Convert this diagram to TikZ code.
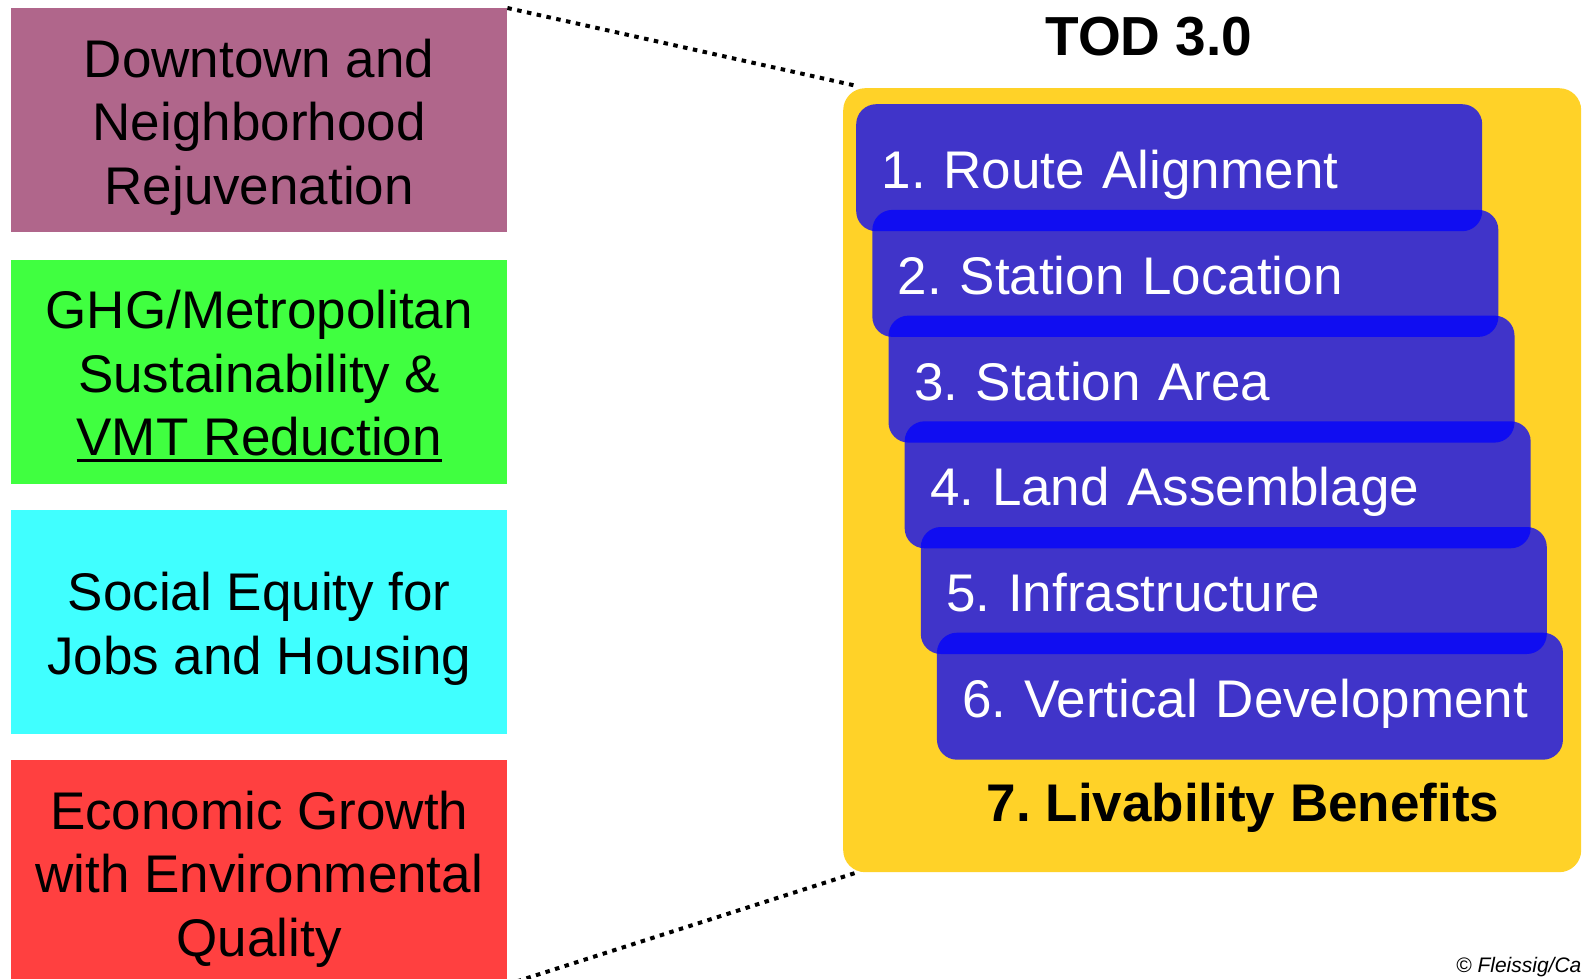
\documentclass[tikz,border=0pt]{standalone}
\usepackage{fontspec}
\setmainfont{Liberation Sans}

\definecolor{goalmauve}{RGB}{176,102,139}
\definecolor{goalgreen}{RGB}{64,255,64}
\definecolor{goalcyan}{RGB}{64,255,255}
\definecolor{goalred}{RGB}{255,64,64}
\definecolor{todyellow}{RGB}{255,210,40}
\definecolor{stepblue}{RGB}{0,0,255}

% line strut: keeps every text line 63.5pt tall (52.5 above, 11 below the baseline)
\newcommand{\lstrut}{\rule[-11pt]{0pt}{63.5pt}}
% underline drawn as a 3pt rule just below the baseline
\newcommand{\thickuline}[1]{\setbox0\hbox{#1}\rlap{\rule[-6.5pt]{\wd0}{3pt}}\box0}

\begin{document}
\frenchspacing
\begin{tikzpicture}[x=1pt,y=-1pt,
  goalbox/.style={draw=none, inner sep=0pt, minimum width=496pt, minimum height=224pt,
    align=center, anchor=north west, font=\fontsize{53pt}{63.5pt}\selectfont},
  panel/.style={fill=todyellow, rounded corners=22pt, inner sep=0pt,
    minimum width=738pt, minimum height=784pt, anchor=north west},
  stepbox/.style={fill=stepblue, fill opacity=0.75, text opacity=1, text=white,
    rounded corners=20pt, inner xsep=25.5pt, inner ysep=0pt, text width=575pt,
    align=left, minimum height=127pt, text height=42pt, text depth=0pt,
    anchor=north west, font=\fontsize{53pt}{63.5pt}\selectfont},
  zoomline/.style={line width=4pt, dash pattern=on 4.5pt off 5.5pt}
]
\useasboundingbox (0,0) rectangle (1583,979);

% goals on the left
\node[goalbox, fill=goalmauve] (g1) at (11,8)
  {\lstrut Downtown and\\\lstrut Neighborhood\\\lstrut Rejuvenation};
\node[goalbox, fill=goalgreen] (g2) at (11,259.5)
  {\lstrut GHG/Metropolitan\\\lstrut Sustainability \&\\\lstrut\thickuline{VMT Reduction}};
\node[goalbox, fill=goalcyan] (g3) at (11,509.5)
  {\lstrut Social Equity for\\\lstrut Jobs and Housing};
\node[goalbox, fill=goalred] (g4) at (11,760)
  {\lstrut Economic Growth\\\lstrut with Environmental\\\lstrut Quality};

% TOD 3.0 panel
\node[font=\fontsize{55pt}{66pt}\selectfont\bfseries, anchor=base, inner sep=0pt]
  (title) at (1149,56) {TOD 3.0};
\node[panel] (panel) at (843,88) {};

\node[stepbox] (s1) at (856.00,104.0) {1. Route Alignment};
\node[stepbox] (s2) at (872.15,209.7) {2. Station Location};
\node[stepbox] (s3) at (888.30,315.4) {3. Station Area};
\node[stepbox] (s4) at (904.45,421.1) {4. Land Assemblage};
\node[stepbox] (s5) at (920.60,526.8) {5. Infrastructure};
\node[stepbox] (s6) at (936.75,632.5) {6. Vertical Development};

\node[font=\fontsize{53pt}{63.5pt}\selectfont\bfseries, anchor=base, inner sep=0pt]
  (livability) at (1243,821) {7. Livability Benefits};

% dotted zoom lines from the goals to the panel
\draw[zoomline] (g1.north east) -- ([xshift=14pt,yshift=2pt]panel.north west);
\draw[zoomline] (g4.south east) -- ([xshift=14pt]panel.south west);

% credit
\node[font=\fontsize{21pt}{25pt}\selectfont\itshape, anchor=base west, inner sep=0pt]
  (credit) at (1456,972.5) {© Fleissig/Ca};
\end{tikzpicture}
\end{document}
